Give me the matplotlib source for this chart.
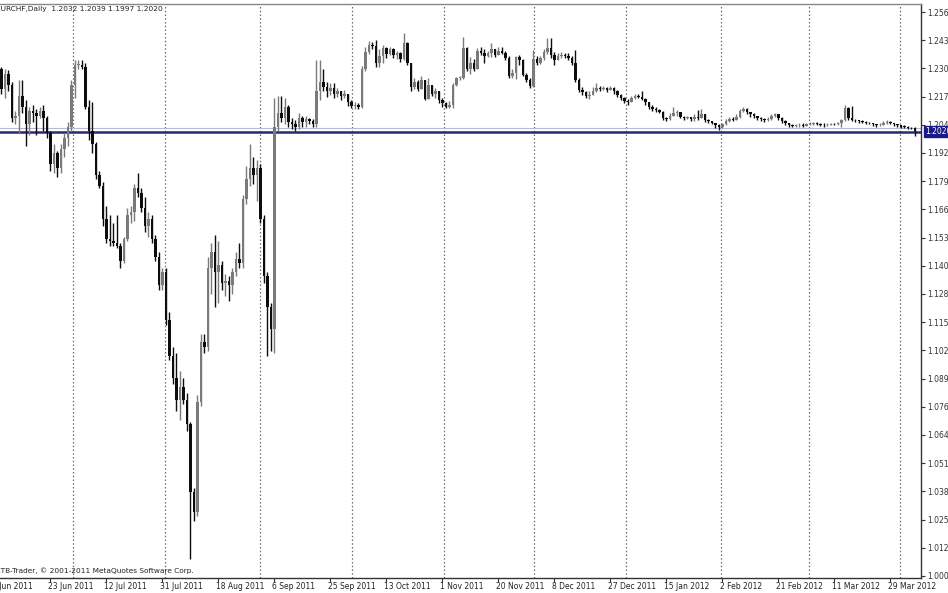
import matplotlib
matplotlib.use("Agg")
import matplotlib.pyplot as plt

# EURCHF daily bars (open of each bar = previous close)
first_open = 1.2300
closes = [
    1.2210, 1.2280, 1.2230, 1.2080, 1.2090, 1.2180, 1.2130, 1.2050, 1.2110, 1.2100,
    1.2090, 1.2110, 1.2080, 1.2010, 1.1870, 1.1920, 1.1850, 1.1940, 1.1990, 1.2040,
    1.2230, 1.2320, 1.2320, 1.2310, 1.2130, 1.2020, 1.1960, 1.1820, 1.1770, 1.1620,
    1.1530, 1.1520, 1.1510, 1.1500, 1.1430, 1.1530, 1.1640, 1.1650, 1.1760, 1.1740,
    1.1670, 1.1590, 1.1620, 1.1530, 1.1450, 1.1320, 1.1380, 1.1160, 1.1000, 1.0900,
    1.0800, 1.0860, 1.0800, 1.0690, 1.0380, 1.0290, 1.0790, 1.1060, 1.1040, 1.1400,
    1.1470, 1.1380, 1.1410, 1.1330, 1.1340, 1.1320, 1.1380, 1.1440, 1.1420, 1.1710,
    1.1800, 1.1850, 1.1820, 1.1850, 1.1620, 1.1360, 1.1220, 1.1120, 1.2040, 1.2100,
    1.2080, 1.2130, 1.2060, 1.2050, 1.2040, 1.2080, 1.2060, 1.2075, 1.2065, 1.2050,
    1.2200, 1.2240, 1.2220, 1.2200, 1.2215, 1.2190, 1.2200, 1.2180, 1.2190, 1.2150,
    1.2135, 1.2140, 1.2130, 1.2300, 1.2380, 1.2410, 1.2405, 1.2330, 1.2360, 1.2395,
    1.2370, 1.2390, 1.2365, 1.2375, 1.2345, 1.2420, 1.2330, 1.2220, 1.2240, 1.2210,
    1.2250, 1.2165, 1.2230, 1.2190, 1.2200, 1.2160, 1.2145, 1.2130, 1.2140, 1.2230,
    1.2260, 1.2260, 1.2395, 1.2300, 1.2330, 1.2300, 1.2385, 1.2375, 1.2360, 1.2375,
    1.2390, 1.2365, 1.2385, 1.2375, 1.2350, 1.2270, 1.2285, 1.2355, 1.2340, 1.2275,
    1.2250, 1.2225, 1.2345, 1.2330, 1.2350, 1.2380, 1.2395, 1.2365, 1.2340, 1.2360,
    1.2365, 1.2360, 1.2350, 1.2330, 1.2250, 1.2205, 1.2195, 1.2180, 1.2185, 1.2200,
    1.2215, 1.2210, 1.2215, 1.2205, 1.2215, 1.2200, 1.2185, 1.2170, 1.2155, 1.2150,
    1.2170, 1.2180, 1.2175, 1.2165, 1.2150, 1.2130, 1.2120, 1.2115, 1.2105, 1.2080,
    1.2075, 1.2090, 1.2100, 1.2105, 1.2085, 1.2080, 1.2085, 1.2075, 1.2085, 1.2080,
    1.2095, 1.2070, 1.2065, 1.2055, 1.2045, 1.2040, 1.2050, 1.2065, 1.2075, 1.2070,
    1.2085, 1.2110, 1.2120, 1.2105, 1.2095, 1.2090, 1.2080, 1.2075, 1.2070, 1.2075,
    1.2090, 1.2095, 1.2080, 1.2065, 1.2055, 1.2045, 1.2042, 1.2045, 1.2048, 1.2044,
    1.2050, 1.2052, 1.2055, 1.2050, 1.2048, 1.2045, 1.2048, 1.2052, 1.2050, 1.2055,
    1.2068, 1.2125, 1.2080, 1.2070, 1.2068, 1.2065, 1.2060, 1.2058, 1.2055, 1.2050,
    1.2045, 1.2048, 1.2058, 1.2062, 1.2055, 1.2050, 1.2045, 1.2040, 1.2038, 1.2035,
    1.2032, 1.2020,
]
highs = [
    1.2310, 1.2300, 1.2295, 1.2240, 1.2110, 1.2250, 1.2250, 1.2160, 1.2130, 1.2140,
    1.2120, 1.2130, 1.2140, 1.2090, 1.2020, 1.1960, 1.1930, 1.1960, 1.2010, 1.2060,
    1.2250, 1.2340, 1.2340, 1.2340, 1.2330, 1.2160, 1.2150, 1.1970, 1.1840, 1.1790,
    1.1680, 1.1640, 1.1600, 1.1640, 1.1510, 1.1540, 1.1670, 1.1680, 1.1780, 1.1830,
    1.1760, 1.1720, 1.1650, 1.1640, 1.1550, 1.1470, 1.1400, 1.1400, 1.1200, 1.1040,
    1.1010, 1.0930, 1.0900, 1.0830, 1.0700, 1.0400, 1.0820, 1.1100, 1.1100, 1.1450,
    1.1510, 1.1550, 1.1520, 1.1430, 1.1370, 1.1360, 1.1400, 1.1470, 1.1510, 1.1730,
    1.1860, 1.1960, 1.1900, 1.1890, 1.1870, 1.1640, 1.1380, 1.1240, 1.2170, 1.2180,
    1.2180, 1.2170, 1.2140, 1.2080, 1.2070, 1.2100, 1.2090, 1.2090, 1.2080, 1.2075,
    1.2340, 1.2342, 1.2300, 1.2240, 1.2236, 1.2236, 1.2215, 1.2200, 1.2206, 1.2190,
    1.2160, 1.2150, 1.2145, 1.2315, 1.2400, 1.2430, 1.2425, 1.2433, 1.2390, 1.2410,
    1.2400, 1.2400, 1.2395, 1.2385, 1.2380, 1.2463, 1.2425, 1.2330, 1.2260, 1.2250,
    1.2270, 1.2250, 1.2260, 1.2230, 1.2215, 1.2200, 1.2170, 1.2150, 1.2155, 1.2236,
    1.2266, 1.2270, 1.2448, 1.2400, 1.2357, 1.2345, 1.2395, 1.2400, 1.2390, 1.2385,
    1.2418, 1.2390, 1.2400, 1.2400, 1.2385, 1.2360, 1.2300, 1.2360, 1.2365, 1.2345,
    1.2285, 1.2260, 1.2388, 1.2360, 1.2360, 1.2390, 1.2440, 1.2440, 1.2380, 1.2372,
    1.2380, 1.2375, 1.2372, 1.2360, 1.2388, 1.2260, 1.2220, 1.2200, 1.2200, 1.2220,
    1.2236, 1.2225, 1.2225, 1.2220, 1.2225, 1.2220, 1.2206, 1.2190, 1.2175, 1.2165,
    1.2180, 1.2190, 1.2190, 1.2200, 1.2170, 1.2150, 1.2140, 1.2130, 1.2120, 1.2110,
    1.2085, 1.2100, 1.2130, 1.2115, 1.2105, 1.2090, 1.2090, 1.2085, 1.2095, 1.2115,
    1.2120, 1.2095, 1.2075, 1.2065, 1.2058, 1.2050, 1.2058, 1.2075, 1.2085, 1.2085,
    1.2095, 1.2120, 1.2130, 1.2125, 1.2105, 1.2100, 1.2090, 1.2085, 1.2080, 1.2082,
    1.2098, 1.2102, 1.2095, 1.2085, 1.2068, 1.2058, 1.2050, 1.2052, 1.2055, 1.2055,
    1.2058, 1.2060, 1.2062, 1.2060, 1.2055, 1.2055, 1.2055, 1.2058, 1.2058, 1.2062,
    1.2075, 1.2140, 1.2130, 1.2133, 1.2075, 1.2072, 1.2068, 1.2066, 1.2062, 1.2058,
    1.2052, 1.2055, 1.2065, 1.2068, 1.2065, 1.2058, 1.2052, 1.2048, 1.2046, 1.2042,
    1.2040, 1.2039,
]
lows = [
    1.2190, 1.2170, 1.2200, 1.2060, 1.2050, 1.2010, 1.2100, 1.1950, 1.2000, 1.2060,
    1.2000, 1.2080, 1.2020, 1.1990, 1.1840, 1.1830, 1.1810, 1.1830, 1.1900, 1.1950,
    1.2020, 1.2170, 1.2300, 1.2300, 1.2120, 1.1980, 1.1920, 1.1800, 1.1760, 1.1590,
    1.1510, 1.1500, 1.1500, 1.1490, 1.1400, 1.1420, 1.1520, 1.1600, 1.1610, 1.1720,
    1.1650, 1.1560, 1.1540, 1.1510, 1.1430, 1.1300, 1.1300, 1.1140, 1.0980, 1.0870,
    1.0750, 1.0710, 1.0780, 1.0660, 1.0075, 1.0250, 1.0270, 1.0770, 1.1010, 1.1020,
    1.1280, 1.1220, 1.1240, 1.1300, 1.1270, 1.1250, 1.1280, 1.1360, 1.1400, 1.1400,
    1.1690, 1.1770, 1.1780, 1.1700, 1.1600, 1.1330, 1.1000, 1.1020, 1.1010, 1.2020,
    1.2060, 1.2050, 1.2040, 1.2030, 1.2020, 1.2030, 1.2040, 1.2040, 1.2050, 1.2040,
    1.2040, 1.2160, 1.2200, 1.2176, 1.2185, 1.2170, 1.2176, 1.2160, 1.2170, 1.2135,
    1.2125, 1.2120, 1.2120, 1.2125, 1.2290, 1.2370, 1.2390, 1.2310, 1.2310, 1.2330,
    1.2350, 1.2365, 1.2350, 1.2345, 1.2335, 1.2340, 1.2320, 1.2200, 1.2210, 1.2200,
    1.2215, 1.2160, 1.2180, 1.2180, 1.2170, 1.2145, 1.2130, 1.2125, 1.2125, 1.2125,
    1.2225, 1.2250, 1.2255, 1.2290, 1.2280, 1.2290, 1.2300, 1.2365, 1.2330, 1.2355,
    1.2355, 1.2355, 1.2370, 1.2370, 1.2342, 1.2260, 1.2262, 1.2255, 1.2320, 1.2270,
    1.2240, 1.2215, 1.2220, 1.2320, 1.2325, 1.2340, 1.2370, 1.2350, 1.2320, 1.2340,
    1.2350, 1.2350, 1.2340, 1.2320, 1.2240, 1.2195, 1.2185, 1.2170, 1.2165, 1.2185,
    1.2195, 1.2200, 1.2205, 1.2195, 1.2205, 1.2190, 1.2175, 1.2160, 1.2145, 1.2140,
    1.2150, 1.2165, 1.2170, 1.2160, 1.2140, 1.2120, 1.2110, 1.2105, 1.2100, 1.2070,
    1.2065, 1.2070, 1.2090, 1.2090, 1.2080, 1.2070, 1.2075, 1.2065, 1.2065, 1.2070,
    1.2080, 1.2060, 1.2055, 1.2050, 1.2035, 1.2025, 1.2035, 1.2045, 1.2060, 1.2065,
    1.2070, 1.2080, 1.2105, 1.2095, 1.2085, 1.2080, 1.2070, 1.2065, 1.2062, 1.2065,
    1.2070, 1.2082, 1.2072, 1.2058, 1.2048, 1.2040, 1.2038, 1.2038, 1.2040, 1.2040,
    1.2044, 1.2045, 1.2048, 1.2046, 1.2042, 1.2040, 1.2042, 1.2045, 1.2045, 1.2045,
    1.2040, 1.2065, 1.2070, 1.2065, 1.2060, 1.2058, 1.2055, 1.2052, 1.2050, 1.2044,
    1.2040, 1.2042, 1.2045, 1.2052, 1.2050, 1.2044, 1.2040, 1.2035, 1.2032, 1.2030,
    1.2028, 1.1997,
]

date_labels = ["4 Jun 2011", "23 Jun 2011", "12 Jul 2011", "31 Jul 2011", "18 Aug 2011",
               "6 Sep 2011", "25 Sep 2011", "13 Oct 2011", "1 Nov 2011", "20 Nov 2011",
               "8 Dec 2011", "27 Dec 2011", "15 Jan 2012", "2 Feb 2012", "21 Feb 2012",
               "11 Mar 2012", "29 Mar 2012"]
price_ticks = [1.2560, 1.2432, 1.2304, 1.2176, 1.2048, 1.1920, 1.1792, 1.1664, 1.1536,
               1.1408, 1.1280, 1.1152, 1.1024, 1.0896, 1.0768, 1.0640, 1.0512, 1.0384,
               1.0256, 1.0128, 1.0000]
header = "EURCHF,Daily  1.2032 1.2039 1.1997 1.2020"
footer = "ETB-Trader, \u00a9 2001-2011 MetaQuotes Software Corp."

opens = [first_open] + closes[:-1]
n = len(closes)
xs = list(range(n))

fig = plt.figure(figsize=(9.48, 5.93), dpi=100)
ax = fig.add_axes([0.0, 15 / 593, 921 / 948, 574 / 593])

# dotted vertical grid (bar positions of MT4 grid)
for gx in [20.4, 46.7, 73.9, 100.1, 126.4, 152.1, 178.4, 205.6, 230.7, 256.7]:
    ax.axvline(gx, color="#6a6a6a", lw=0.9, ls=(0, (1.2, 1.8)), zorder=1)

bull = "#7a7a7a"
bear = "#0d0d0d"
for i in xs:
    o, c = opens[i], closes[i]
    h = max(highs[i], o, c)
    l = min(lows[i], o, c)
    col = bull if c >= o else bear
    ax.vlines(i, l, h, color=col, lw=1.0, zorder=3)
    body = max(abs(c - o), 0.0003)
    ax.bar(i, body, bottom=min(o, c), width=0.74, color=col, lw=0, zorder=4)

# bid line
last = closes[-1]
ax.axhline(last + 0.0013, color="#b8b8d8", lw=0.8, zorder=2)
ax.axhline(last - 0.0004, color="#2a2a6a", lw=1.8, zorder=2)

ax.set_xlim(-1.5 / 3.5, (921 - 1.5) / 3.5)
ax.set_ylim(1.256 - 566 / 2203, 1.256 + 8 / 2203)

ax.spines["left"].set_visible(False)
ax.spines["top"].set_color("#888888")
ax.spines["right"].set_color("#333333")
ax.spines["bottom"].set_color("#333333")
for s in ["top", "right", "bottom"]:
    ax.spines[s].set_linewidth(1.0)

ax.yaxis.tick_right()
ax.set_yticks(price_ticks)
ax.set_yticklabels(["%.4f" % v for v in price_ticks])
ax.tick_params(axis="y", direction="out", length=3, width=0.8, pad=1.5,
               labelsize=5.5, colors="#333333")

date_pos = [-2 + 16 * k for k in range(len(date_labels))]
ax.set_xticks([p for p in date_pos if p >= 0])
ax.set_xticklabels([])
ax.tick_params(axis="x", direction="out", length=3, width=0.8, colors="#333333")
for p, lab in zip(date_pos, date_labels):
    ax.text(p - 0.6, -0.014, lab, transform=ax.get_xaxis_transform(), fontsize=5.5,
            ha="left", va="center", color="#222222", clip_on=False)

# current price box on the scale
ax.text(1.0 + 4 / 921, last - 0.0002, "1.2020", transform=ax.get_yaxis_transform(),
        fontsize=5.5, color="white", ha="left", va="center", clip_on=False, zorder=6,
        bbox=dict(boxstyle="square,pad=0.15", fc="#1a1a8c", ec="#1a1a8c"))

ax.text(-4 / 921, 1 - 5 / 574, header, transform=ax.transAxes, fontsize=5.3,
        ha="left", va="center", color="#222222", zorder=6)
ax.text(-4 / 921, 7 / 574, footer, transform=ax.transAxes, fontsize=5.3,
        ha="left", va="center", color="#222222", zorder=6)

fig.savefig("out.png", dpi=100, facecolor="white")
